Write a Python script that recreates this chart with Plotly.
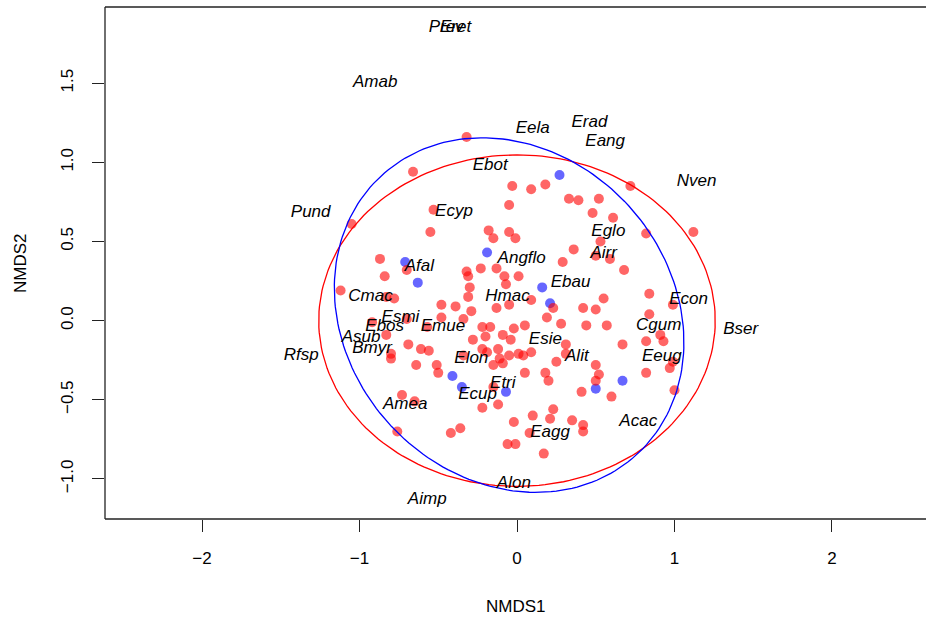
import numpy as np
import plotly.graph_objects as go

# Site scores (NMDS1, NMDS2), group A (red)
red_x = [-0.32, -0.66, -0.03, 0.09, 0.18, 0.33, 0.39, 0.52, 0.72, -0.05,
         -0.53, -1.05, 0.48, 0.61, -0.55, -0.18, -0.15, -0.05, -0.01, 0.82,
         1.12, 0.53, 0.36, 0.29, 0.50, 0.59, 0.68, -0.87, -0.70, -0.84,
         -1.12, -0.83, -0.78, -0.32, -0.31, -0.23, -0.13, -0.08, 0.01, -0.07,
         -0.30, -0.31, 0.09, -0.05, -0.13, 0.23, 0.55, 0.84, 0.42, 0.50,
         0.99, 0.84, 0.19, 0.28, 0.44, 0.57, 0.05, -0.02, -0.22, -0.17,
         -0.09, -0.04, -0.20, -0.28, -0.29, -0.34, -0.48, -0.39, -0.48, 0.67,
         0.82, 0.91, 0.93, 0.31, 0.31, -0.22, -0.12, -0.05, 0.01, 0.09,
         0.04, -0.11, -0.09, -0.15, -0.34, -0.19, 0.25, 0.50, 0.52, 0.50,
         0.82, 0.97, 0.99, 1.00, 0.60, 0.41, 0.05, 0.18, 0.20, -0.92,
         -0.70, -0.57, -0.83, -0.69, -0.61, -0.56, -0.80, -0.80, -0.64, -0.51,
         -0.50, -0.15, -0.12, -0.22, -0.73, -0.65, -0.76, -0.42, -0.36, -0.02,
         0.10, 0.23, 0.21, 0.35, 0.42, 0.42, 0.08, -0.06, -0.01, 0.17]
red_y = [1.16, 0.94, 0.85, 0.83, 0.86, 0.77, 0.76, 0.77, 0.85, 0.73,
         0.70, 0.61, 0.68, 0.65, 0.56, 0.57, 0.52, 0.56, 0.52, 0.55,
         0.56, 0.50, 0.45, 0.37, 0.41, 0.39, 0.32, 0.39, 0.32, 0.28,
         0.19, 0.15, 0.14, 0.31, 0.28, 0.33, 0.33, 0.28, 0.28, 0.23,
         0.21, 0.15, 0.13, 0.10, 0.08, 0.08, 0.14, 0.17, 0.08, 0.07,
         0.10, 0.04, 0.02, -0.02, -0.03, -0.03, -0.03, -0.05, -0.04, -0.04,
         -0.09, -0.12, -0.10, -0.12, 0.06, 0.01, 0.10, 0.09, 0.02, -0.15,
         -0.13, -0.09, -0.13, -0.15, -0.21, -0.18, -0.18, -0.22, -0.21, -0.20,
         -0.22, -0.24, -0.27, -0.28, -0.22, -0.20, -0.26, -0.28, -0.34, -0.38,
         -0.33, -0.30, -0.26, -0.44, -0.48, -0.45, -0.33, -0.33, -0.38, -0.01,
         0.01, -0.04, -0.09, -0.15, -0.18, -0.19, -0.21, -0.24, -0.28, -0.28,
         -0.33, -0.42, -0.53, -0.55, -0.47, -0.51, -0.70, -0.71, -0.68, -0.64,
         -0.60, -0.56, -0.62, -0.63, -0.66, -0.70, -0.71, -0.78, -0.78, -0.84]

# Site scores, group B (blue)
blue_x = [0.27, -0.19, -0.71, -0.63, 0.16, 0.21, -0.41, -0.35, -0.07, 0.50, 0.67]
blue_y = [0.92, 0.43, 0.37, 0.24, 0.21, 0.11, -0.35, -0.42, -0.45, -0.43, -0.38]

# Species scores
species = ["Prev", "Eret", "Amab", "Eela", "Erad", "Eang", "Nven", "Ebot",
           "Ecyp", "Pund", "Eglo", "Airr", "Ebau", "Angflo", "Hmac", "Afal",
           "Cmac", "Esmi", "Ebos", "Emue", "Asub", "Bmyr", "Rfsp", "Elon",
           "Esie", "Alit", "Etri", "Ecup", "Amea", "Eagg", "Acac", "Alon",
           "Aimp", "Econ", "Cgum", "Eeug", "Bser"]
species_x = [-0.45, -0.39, -0.90, 0.10, 0.46, 0.56, 1.14, -0.17,
             -0.40, -1.31, 0.58, 0.55, 0.34, 0.03, -0.06, -0.62,
             -0.93, -0.74, -0.84, -0.47, -0.99, -0.92, -1.37, -0.29,
             0.18, 0.38, -0.09, -0.25, -0.71, 0.21, 0.77, -0.02,
             -0.57, 1.09, 0.90, 0.92, 1.42]
species_y = [1.85, 1.85, 1.50, 1.21, 1.25, 1.13, 0.88, 0.98,
             0.69, 0.68, 0.56, 0.42, 0.24, 0.39, 0.15, 0.34,
             0.15, 0.02, -0.04, -0.04, -0.11, -0.18, -0.22, -0.24,
             -0.12, -0.23, -0.40, -0.47, -0.53, -0.71, -0.64, -1.03,
             -1.13, 0.13, -0.03, -0.23, -0.06]

# Group ellipses: centre and shape matrix
red_centre = [0.0, 0.0]
red_shape = [[1.585, 0.0], [0.0, 1.096]]
blue_centre = [-0.05, 0.035]
blue_shape = [[1.232, -0.19], [-0.19, 1.254]]

x_ticks = [-2, -1, 0, 1, 2]
y_ticks = [-1.0, -0.5, 0.0, 0.5, 1.0, 1.5]


def ellipse_path(centre, shape, n=200):
    vals, vecs = np.linalg.eigh(np.array(shape))
    t = np.linspace(0, 2 * np.pi, n)
    circ = np.vstack([np.cos(t), np.sin(t)])
    pts = vecs @ np.diag(np.sqrt(vals)) @ circ
    return pts[0] + centre[0], pts[1] + centre[1]


FONT = "Liberation Sans, Arial, Helvetica, sans-serif"

fig = go.Figure()

fig.add_trace(go.Scatter(
    x=blue_x, y=blue_y, mode="markers",
    marker=dict(size=10, color="rgba(0,0,255,0.6)", line=dict(width=0)),
    hoverinfo="skip"))
fig.add_trace(go.Scatter(
    x=red_x, y=red_y, mode="markers",
    marker=dict(size=10, color="rgba(255,0,0,0.6)", line=dict(width=0)),
    hoverinfo="skip"))

ex, ey = ellipse_path(red_centre, red_shape)
fig.add_trace(go.Scatter(x=ex, y=ey, mode="lines",
                         line=dict(color="red", width=1.3), hoverinfo="skip"))
ex, ey = ellipse_path(blue_centre, blue_shape)
fig.add_trace(go.Scatter(x=ex, y=ey, mode="lines",
                         line=dict(color="blue", width=1.3), hoverinfo="skip"))

fig.add_trace(go.Scatter(
    x=species_x, y=species_y, mode="text", text=species,
    textposition="middle center",
    textfont=dict(family=FONT, size=17, color="black", style="italic"),
    hoverinfo="skip"))

# frame: left, top and bottom sides of the plotting region
frame = dict(type="line", xref="paper", yref="paper",
             line=dict(color="#222222", width=1.3))
fig.add_shape(x0=0, x1=0, y0=0, y1=1, **frame)
fig.add_shape(x0=0, x1=1, y0=1, y1=1, **frame)
fig.add_shape(x0=0, x1=1, y0=0, y1=0, **frame)

fig.add_annotation(text="NMDS1", xref="paper", yref="paper", x=0.5, y=-0.17,
                   showarrow=False, xanchor="center", yanchor="middle",
                   font=dict(family=FONT, size=17, color="black"))
fig.add_annotation(text="NMDS2", xref="paper", yref="paper", x=-0.1035, y=0.5,
                   showarrow=False, xanchor="center", yanchor="middle",
                   textangle=-90,
                   font=dict(family=FONT, size=17, color="black"))

fig.update_layout(
    width=926, height=618,
    margin=dict(l=105, r=0, t=7, b=99),
    plot_bgcolor="white", paper_bgcolor="white",
    showlegend=False,
    xaxis=dict(range=[-2.616, 2.597], tickvals=x_ticks,
               ticktext=["\u22122", "\u22121", "0", "1", "2"],
               ticks="outside", ticklen=12, tickwidth=1.2, tickcolor="#222222",
               showgrid=False, zeroline=False, showline=False,
               ticklabelstandoff=12,
               tickfont=dict(family=FONT, size=17, color="black")),
    yaxis=dict(range=[-1.253, 1.981], tickvals=y_ticks,
               ticktext=["\u22121.0", "\u22120.5", "0.0", "0.5", "1.0", "1.5"],
               ticks="outside", ticklen=12, tickwidth=1.2, tickcolor="#222222",
               tickangle=-90,
               showgrid=False, zeroline=False, showline=False,
               ticklabelstandoff=12,
               tickfont=dict(family=FONT, size=17, color="black")),
)

fig.write_html("out.html")
